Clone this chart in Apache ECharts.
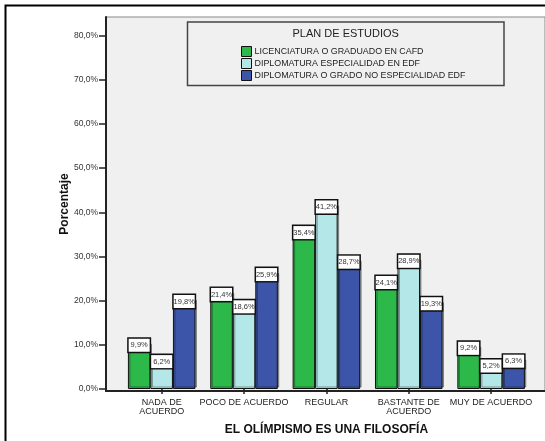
<!DOCTYPE html>
<html>
<head>
<meta charset="utf-8">
<script src="https://cdn.jsdelivr.net/npm/echarts@6/dist/echarts.min.js"></script>
<style>
html,body{margin:0;padding:0;background:#fff;}
#chart{width:545px;height:441px;}
</style>
</head>
<body>
<div id="chart"></div>
<script>
var categories = ['NADA DE\nACUERDO', 'POCO DE ACUERDO', 'REGULAR', 'BASTANTE DE\nACUERDO', 'MUY DE ACUERDO'];
var seriesNames = ['LICENCIATURA O GRADUADO EN CAFD', 'DIPLOMATURA ESPECIALIDAD EN EDF', 'DIPLOMATURA O GRADO NO ESPECIALIDAD EDF'];
var licenciatura = [9.9, 21.4, 35.4, 24.1, 9.2];
var especialidad = [6.2, 18.6, 41.2, 28.9, 5.2];
var noEspecialidad = [19.8, 25.9, 28.7, 19.3, 6.3];
var yMin = 0, yMax = 80, yStep = 10;
var legendTitle = 'PLAN DE ESTUDIOS';
var xTitle = 'EL OLÍMPISMO ES UNA FILOSOFÍA';
var yTitle = 'Porcentaje';

var colors = ['#2db84a', '#b4e7e7', '#3c55a8'];
var font = 'Liberation Sans, Arial, sans-serif';

function pct(v) { return v.toFixed(1).replace('.', ',') + '%'; }

function makeSeries(name, data, idx) {
  return {
    name: name,
    type: 'bar',
    xAxisIndex: 1,
    yAxisIndex: 1,
    data: data,
    barGap: '0%',
    barCategoryGap: '18%',
    itemStyle: {
      color: colors[idx],
      borderColor: '#111',
      borderWidth: 1,
      shadowColor: 'rgba(0,0,0,0.35)',
      shadowBlur: 0,
      shadowOffsetX: 1.5,
      shadowOffsetY: -1.5
    },
    label: {
      show: true,
      position: 'insideTop',
      distance: 0,
      formatter: function (p) { return pct(p.value); },
      fontFamily: font,
      fontSize: 7.5,
      color: '#333',
      backgroundColor: '#fff',
      borderColor: '#111',
      borderWidth: 1.5,
      width: 21,
      height: 13,
      lineHeight: 13,
      align: 'center',
      verticalAlign: 'middle',
      padding: 0
    },
    emphasis: { disabled: true }
  };
}

var chart = echarts.init(document.getElementById('chart'), null, { renderer: 'canvas' });
chart.setOption({
  animation: false,
  backgroundColor: '#fff',
  textStyle: { fontFamily: font },
  graphic: [
    { type: 'rect', z: 100, silent: true, shape: { x: 5.5, y: 5.5, width: 600, height: 500 }, style: { fill: null, stroke: '#000', lineWidth: 2 } },
    { type: 'rect', z: 5, silent: true, shape: { x: 187.5, y: 22, width: 316.5, height: 63.5 }, style: { fill: '#f0f0f0', stroke: '#444', lineWidth: 1.5 } },
    { type: 'text', z: 6, silent: true, style: { x: 345.7, y: 34, text: legendTitle, font: '11px ' + font, fill: '#222', textAlign: 'center', textVerticalAlign: 'middle' } }
  ],
  legend: {
    orient: 'vertical',
    left: 241,
    top: 46,
    padding: 0,
    itemWidth: 10,
    itemHeight: 10,
    itemGap: 1,
    z: 7,
    icon: 'rect',
    selectedMode: false,
    data: seriesNames,
    textStyle: { fontFamily: font, fontSize: 8.9, color: '#222', padding: [0, 0, 0, -2], lineHeight: 10, height: 10 },
    itemStyle: { borderColor: '#111', borderWidth: 1, shadowBlur: 0, shadowOffsetX: 0, shadowOffsetY: 0 }
  },
  grid: [
    { left: 106, top: 17, right: -10, bottom: 50, show: true, backgroundColor: '#f0f0f0', borderColor: '#888', borderWidth: 1 },
    { left: 120.5, top: 35.5, right: 12.7, bottom: 50 }
  ],
  xAxis: [
    { gridIndex: 0, type: 'value', min: 0, max: 1, axisLine: { show: true, lineStyle: { color: '#222', width: 2 } }, axisTick: { show: false }, axisLabel: { show: false }, splitLine: { show: false } },
    {
      gridIndex: 1, type: 'category', data: categories,
      axisLine: { show: false },
      axisTick: { show: true, alignWithLabel: true, length: 5, lineStyle: { color: '#222', width: 1.5 } },
      axisLabel: { interval: 0, fontFamily: font, fontSize: 9, lineHeight: 9, color: '#222', margin: 9 },
      name: xTitle, nameLocation: 'middle', nameGap: 35,
      nameTextStyle: { fontFamily: font, fontSize: 12, fontWeight: 'bold', color: '#111' }
    }
  ],
  yAxis: [
    {
      gridIndex: 0, type: 'value', min: 0, max: 1,
      axisLine: { show: true, lineStyle: { color: '#222', width: 2 } }, axisTick: { show: false }, axisLabel: { show: false }, splitLine: { show: false },
      name: yTitle, nameLocation: 'middle', nameGap: 35,
      nameTextStyle: { fontFamily: font, fontSize: 12, fontWeight: 'bold', color: '#111' }
    },
    {
      gridIndex: 1, type: 'value', min: yMin, max: yMax, interval: yStep, offset: 14.5,
      axisLine: { show: false },
      axisTick: { show: true, length: 7, lineStyle: { color: '#222', width: 1.5 } },
      axisLabel: { formatter: function (v) { return pct(v); }, fontFamily: font, fontSize: 8.5, color: '#333', margin: 8 },
      splitLine: { show: false }
    }
  ],
  series: [
    makeSeries(seriesNames[0], licenciatura, 0),
    makeSeries(seriesNames[1], especialidad, 1),
    makeSeries(seriesNames[2], noEspecialidad, 2)
  ]
});
</script>
</body>
</html>
